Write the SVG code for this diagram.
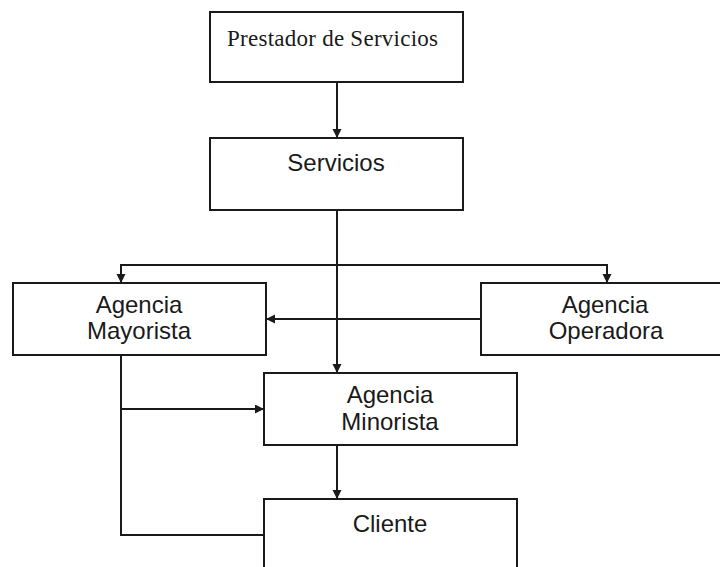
<svg xmlns="http://www.w3.org/2000/svg" width="720" height="567" viewBox="0 0 720 567">
<style>
.box{fill:#fff;stroke:#1a1a1a;stroke-width:2}
.ln{fill:none;stroke:#1a1a1a;stroke-width:2}
.t{font-family:"Liberation Sans",Arial,sans-serif;font-size:24px;fill:#1a1a1a;text-anchor:middle}
.s{font-family:"Liberation Serif","Times New Roman",serif;font-size:23px;fill:#1a1a1a}
</style>
<defs>
<marker id="ah" markerUnits="userSpaceOnUse" markerWidth="10" markerHeight="10" refX="9" refY="4.5" orient="auto">
<path d="M0,0 L9,4.5 L0,9 z" fill="#1a1a1a"/>
</marker>
</defs>
<rect width="720" height="567" fill="#fff"/>
<g id="connectors">
<path class="ln" d="M337 82 V138" marker-end="url(#ah)"/>
<path class="ln" d="M337 210 V373" marker-end="url(#ah)"/>
<path class="ln" d="M337 265 H121 V283" marker-end="url(#ah)"/>
<path class="ln" d="M337 265 H607 V283" marker-end="url(#ah)"/>
<path class="ln" d="M481 319 H266" marker-end="url(#ah)"/>
<path class="ln" d="M121 355 V535 H264"/>
<path class="ln" d="M121 409 H264" marker-end="url(#ah)"/>
<path class="ln" d="M337 445 V499" marker-end="url(#ah)"/>
</g>
<g id="prestador">
<rect class="box" x="210" y="12" width="253" height="70"/>
<text class="s" x="227" y="46" textLength="211">Prestador de Servicios</text>
</g>
<g id="servicios">
<rect class="box" x="210" y="138" width="253" height="72"/>
<text class="t" x="336" y="171">Servicios</text>
</g>
<g id="mayorista">
<rect class="box" x="13" y="283" width="253" height="72"/>
<text class="t" x="139" y="313">Agencia</text>
<text class="t" x="139" y="339">Mayorista</text>
</g>
<g id="operadora">
<rect class="box" x="481" y="283" width="250" height="72"/>
<text class="t" x="605" y="313">Agencia</text>
<text class="t" x="606" y="339">Operadora</text>
</g>
<g id="minorista">
<rect class="box" x="264" y="373" width="253" height="72"/>
<text class="t" x="390" y="403">Agencia</text>
<text class="t" x="390" y="430">Minorista</text>
</g>
<g id="cliente">
<rect class="box" x="264" y="499" width="253" height="80"/>
<text class="t" x="390" y="532">Cliente</text>
</g>
</svg>
